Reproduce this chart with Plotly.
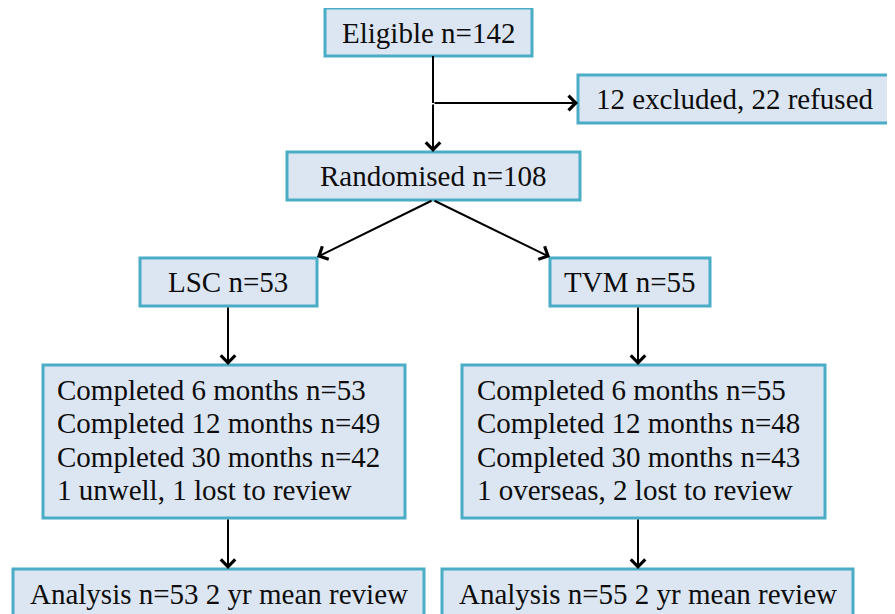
import plotly.graph_objects as go

# ---- data ----
top_stages = ["Eligible", "Randomised"]
top_counts = [142, 108]
excluded_count = 12
refused_count = 22
arms = ["LSC", "TVM"]
arm_counts = [53, 55]
followup_months = [6, 12, 30]
completed_lsc = [53, 49, 42]
completed_tvm = [55, 48, 43]
losses_lsc = "1 unwell, 1 lost to review"
losses_tvm = "1 overseas, 2 lost to review"
analysis_counts = [53, 55]
mean_review_years = 2

# ---- layout geometry (pixels in a 895x614 canvas) ----
W, H = 895, 614
OFF = 8  # page body margin
FILL = "#DCE6F2"
EDGE = "#4BACC6"
FONT = dict(family="Liberation Serif, Times New Roman, serif", size=29, color="#0d0d0d")

boxes = {
    "eligible": (325, 8, 532, 56),
    "excluded": (578, 75, 892, 123),
    "random": (287, 152, 580, 200),
    "lsc": (140, 258, 317, 306),
    "tvm": (550, 258, 710, 306),
    "comp_lsc": (43, 365, 405, 518),
    "comp_tvm": (462, 365, 825, 518),
    "ana_lsc": (13, 569, 424, 640),
    "ana_tvm": (442, 569, 853, 640),
}

fig = go.Figure()
shapes = []
for key, (x0, y0, x1, y1) in boxes.items():
    shapes.append(dict(type="rect", xref="x", yref="y", x0=x0, y0=y0, x1=x1, y1=y1,
                       fillcolor=FILL, line=dict(color=EDGE, width=3), layer="below"))

# plain connector line (no head)
shapes.append(dict(type="line", xref="x", yref="y", x0=433, y0=56, x1=433, y1=103,
                   line=dict(color="black", width=2)))

annotations = []

def label(x, y, text, anchor="center"):
    annotations.append(dict(x=x, y=y, xref="x", yref="y", text=text, showarrow=False,
                            xanchor=anchor, yanchor="middle", font=FONT))

def arrow(x0, y0, x1, y1):
    annotations.append(dict(x=x1, y=y1, ax=x0, ay=y0, xref="x", yref="y", axref="x", ayref="y",
                            text="", showarrow=True, arrowhead=4, arrowsize=1.4, arrowwidth=2,
                            arrowcolor="black", standoff=0, startstandoff=0))

label(428, 33, f"{top_stages[0]} n={top_counts[0]}")
label(735, 99, f"{excluded_count} excluded, {refused_count} refused")
label(433, 176, f"{top_stages[1]} n={top_counts[1]}")
label(228, 282, f"{arms[0]} n={arm_counts[0]}")
label(630, 282, f"{arms[1]} n={arm_counts[1]}")

line_y = [390, 423, 457, 490]
for i, m in enumerate(followup_months):
    label(55, line_y[i], f"Completed {m} months n={completed_lsc[i]}", "left")
    label(475, line_y[i], f"Completed {m} months n={completed_tvm[i]}", "left")
label(55, line_y[3], losses_lsc, "left")
label(475, line_y[3], losses_tvm, "left")

label(28, 594, f"Analysis n={analysis_counts[0]} {mean_review_years} yr mean review", "left")
label(457, 594, f"Analysis n={analysis_counts[1]} {mean_review_years} yr mean review", "left")

arrow(433, 103, 433, 152)
arrow(433, 103, 578, 103)
arrow(433, 200, 317, 257)
arrow(433, 200, 550, 257)
arrow(228, 306, 228, 365)
arrow(638, 306, 638, 365)
arrow(228, 518, 228, 569)
arrow(638, 518, 638, 569)

fig.update_layout(
    width=W, height=H,
    margin=dict(l=0, r=0, t=0, b=0),
    paper_bgcolor="white", plot_bgcolor="white",
    xaxis=dict(range=[OFF, W + OFF], visible=False, fixedrange=True),
    yaxis=dict(range=[H + OFF, OFF], visible=False, fixedrange=True),
    shapes=shapes, annotations=annotations, showlegend=False,
)

fig.write_html("out.html")
